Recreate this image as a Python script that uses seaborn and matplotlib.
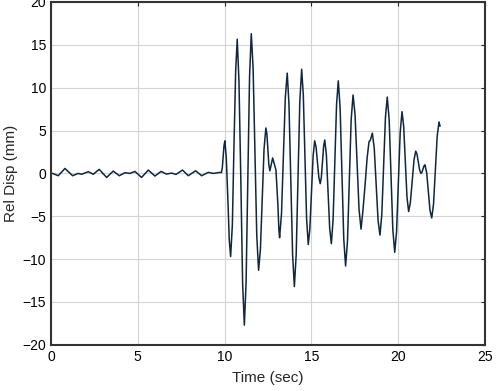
import numpy as np
import pandas as pd
import matplotlib
matplotlib.use('Agg')
import matplotlib.pyplot as plt
import seaborn as sns

# time (sec) and relative displacement (mm)
# quiet part before the strong motion
time_quiet = [
    0.0, 0.1, 0.42, 0.81, 1.25, 1.57, 1.77, 2.15, 2.44, 2.78, 3.21, 3.59, 3.94,
    4.26, 4.55, 4.84, 5.22, 5.61, 5.99, 6.34, 6.66, 6.95, 7.2, 7.58, 7.91, 8.33,
    8.68, 9.06, 9.35, 9.73, 9.82,
]
disp_quiet = [
    0.0, 0.0, -0.27, 0.58, -0.27, 0.0, -0.1, 0.2, -0.1, 0.47, -0.47, 0.27, -0.27,
    0.08, 0.0, 0.23, -0.47, 0.39, -0.31, 0.23, -0.08, 0.04, -0.12, 0.39, -0.27, 0.31,
    -0.27, 0.12, 0.0, 0.12, 0.1,
]

# strong motion part
time_strong = [
    9.87, 9.92, 9.97, 10.02, 10.10, 10.19, 10.27, 10.35, 10.45, 10.54, 10.64, 10.73,
    10.83, 10.94, 11.04, 11.14, 11.24, 11.34, 11.44, 11.54, 11.645, 11.75, 11.855,
    11.96, 12.065, 12.17, 12.275, 12.38, 12.44, 12.495, 12.55, 12.61, 12.77, 12.96,
    13.07, 13.13, 13.17, 13.28, 13.39, 13.50, 13.61, 13.71, 13.815, 13.92, 14.02,
    14.125, 14.23, 14.335, 14.44, 14.535, 14.63, 14.725, 14.82, 14.91, 15.005, 15.10,
    15.19, 15.27, 15.35, 15.43, 15.51, 15.575, 15.64, 15.705, 15.77, 15.865, 15.96,
    16.055, 16.15, 16.25, 16.35, 16.45, 16.55, 16.655, 16.76, 16.865, 16.97, 17.08,
    17.185, 17.29, 17.40, 17.515, 17.63, 17.745, 17.86, 17.97, 18.09, 18.21, 18.32,
    18.40, 18.51, 18.62, 18.73, 18.84, 18.95, 19.055, 19.16, 19.265, 19.37, 19.48,
    19.585, 19.69, 19.80, 19.905, 20.01, 20.115, 20.22, 20.315, 20.41, 20.505, 20.60,
    20.70, 20.805, 20.91, 21.01, 21.085, 21.16, 21.235, 21.31, 21.37, 21.425, 21.48,
    21.54, 21.64, 21.735, 21.83, 21.93, 22.035, 22.14, 22.245, 22.35, 22.41,
]
disp_strong = [
    0.64, 1.95, 3.26, 3.8, 1.82, -2.95, -7.72, -9.7, -5.98, 2.98, 11.94, 15.65,
    10.76, -1.03, -12.82, -17.7, -12.72, -0.7, 11.32, 16.3, 12.26, 2.5, -7.26,
    -11.3, -8.87, -3.0, 2.87, 5.3, 4.57, 2.8, 1.03, 0.3, 1.8, 0.4,
    -3.6, -6.6, -7.5, -4.69, 2.1, 8.89, 11.7, 8.05, -0.75, -9.55, -13.2,
    -9.49, -0.53, 8.43, 12.15, 9.16, 1.93, -5.3, -8.3, -6.53, -2.25, 2.03,
    3.8, 3.07, 1.3, -0.47, -1.2, -0.45, 1.35, 3.15, 3.9, 2.13, -2.15,
    -6.43, -8.2, -5.42, 1.3, 8.02, 10.8, 7.64, 0.0, -7.64, -10.8, -7.88,
    -0.83, 6.22, 9.15, 6.86, 1.33, -4.2, -6.5, -4.3, -1.4, 1.8, 3.7,
    3.9, 4.7, 2.96, -1.25, -5.46, -7.2, -4.84, 0.85, 6.54, 8.9, 6.25,
    -0.15, -6.55, -9.2, -6.8, -1.0, 4.8, 7.2, 5.5, 1.38, -2.74, -4.45,
    -3.42, -0.93, 1.56, 2.6, 2.22, 1.3, 0.38, 0.0, 0.15, 0.5, 0.85,
    1.0, 0.09, -2.1, -4.29, -5.2, -3.56, 0.4, 4.36, 6.0, 5.5,
]

x_ticks = [0, 5, 10, 15, 20, 25]
y_ticks = [-20, -15, -10, -5, 0, 5, 10, 15, 20]

df = pd.DataFrame({'Time (sec)': time_quiet + time_strong,
                   'Rel Disp (mm)': disp_quiet + disp_strong})

sns.set_style('whitegrid')
plt.rcParams['font.family'] = ['Liberation Sans', 'DejaVu Sans']

fig = plt.figure(figsize=(4.99, 3.91), dpi=100)
ax = fig.add_axes([0.102, 0.118, 0.870, 0.877])

sns.lineplot(data=df, x='Time (sec)', y='Rel Disp (mm)', ax=ax,
             color='#0f2640', linewidth=1.1, sort=False)

ax.set_xlim(0, 25)
ax.set_ylim(-20, 20)
ax.set_xticks(x_ticks)
ax.set_yticks(y_ticks)
ax.grid(True, color='#d4d4d4', linewidth=0.8)
ax.tick_params(direction='in', length=3, labelsize=10, colors='#222222',
               top=True, right=True, labelcolor='black')
for s in ax.spines.values():
    s.set_visible(True)
    s.set_color('#333333')
    s.set_linewidth(1.5)
ax.set_xlabel('Time (sec)', fontsize=11, labelpad=5)
ax.set_ylabel('Rel Disp (mm)', fontsize=11, labelpad=3)

fig.savefig('out.png', dpi=100)
